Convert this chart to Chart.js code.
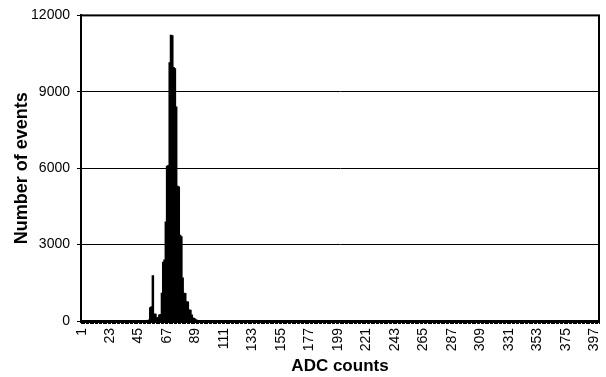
<html>
  <head>
    <meta charset="UTF-8">
    <title>ADC counts</title>
    <script src="https://cdn.jsdelivr.net/npm/chart.js@4.4.0/dist/chart.umd.min.js"></script>
    <style>
      body { margin: 0; background: #fff; }
      .chartWrapper { width: 606px; height: 377px; }
    </style>
  </head>
  <body>
    <div class="chartWrapper">
      <canvas id="chartAdc" width="606" height="377"></canvas>
    </div>

    <script>
      // ADC channels 1..400
      const binCount = 400;
      const labelStep = 22;

      // counts, starting at channel 51; every other channel is empty
      const peakStart = 51;
      const peakCounts = [
        0, 10, 40, 520, 560, 1770, 270, 260, 120, 130,
        230, 250, 1090, 2300, 2390, 3880, 6070, 6100, 10140, 11220,
        11200, 9950, 9900, 8400, 5290, 5260, 3360, 3300, 1680, 1090,
        1080, 755, 740, 430, 420, 230, 110, 90, 50, 30,
        20, 10
      ];

      const yTicks = [0, 3000, 6000, 9000, 12000];

      const channels = [];
      const counts = [];
      for (let i = 1; i <= binCount; i++) {
        channels.push(String(i));
        const k = i - peakStart;
        counts.push(k >= 0 && k < peakCounts.length ? peakCounts[k] : 0);
      }

      const font = 'Liberation Sans, Arial, sans-serif';

      // plot frame (top and right edges, like the spreadsheet original)
      const framePlugin = {
        id: 'frame',
        afterDraw(chart) {
          const a = chart.chartArea;
          const ctx = chart.ctx;
          ctx.save();
          ctx.strokeStyle = '#000';
          ctx.lineWidth = 2;
          ctx.strokeRect(a.left, a.top, a.right - a.left, a.bottom - a.top);
          ctx.restore();
        }
      };

      new Chart(document.getElementById('chartAdc'), {
        type: 'bar',
        data: {
          labels: channels,
          datasets: [{
            data: counts,
            backgroundColor: '#000',
            borderWidth: 0,
            inflateAmount: 0.6,
            barPercentage: 1,
            categoryPercentage: 1,
          }]
        },
        options: {
          responsive: false,
          animation: false,
          layout: {
            padding: { left: 0, right: 7, top: 14, bottom: 0 }
          },
          plugins: {
            legend: { display: false },
            tooltip: { enabled: false },
          },
          scales: {
            x: {
              afterFit(scale) {
                scale.height = 56;
                scale.paddingLeft = 0;
                scale.paddingRight = 0;
              },
              grid: {
                drawOnChartArea: false,
                drawTicks: true,
                tickLength: 3,
                color: '#000',
                lineWidth: 1,
              },
              border: { display: true, color: '#000', width: 3 },
              ticks: {
                autoSkip: false,
                minRotation: 90,
                maxRotation: 90,
                padding: 4,
                color: '#000',
                font: { family: font, size: 14 },
                callback: function(value, index) {
                  return index % labelStep === 0 ? channels[index] : '';
                }
              },
              title: {
                display: true,
                text: 'ADC counts',
                color: '#000',
                font: { family: font, size: 17, weight: 'bold' },
                padding: { top: 0, bottom: 0 },
              }
            },
            y: {
              min: 0,
              max: 12000,
              afterFit(scale) { scale.width = 81; },
              afterBuildTicks(scale) {
                scale.ticks = yTicks.map(v => ({ value: v }));
              },
              grid: {
                color: '#000',
                lineWidth: 1,
                drawTicks: true,
                tickLength: 4,
              },
              border: { display: true, color: '#000', width: 2 },
              ticks: {
                padding: 7,
                color: '#000',
                font: { family: font, size: 14 },
                callback: (v) => String(v),
              },
              title: {
                display: true,
                text: 'Number of events',
                color: '#000',
                font: { family: font, size: 18, weight: 'bold' },
                padding: { top: 11, bottom: 0 },
              }
            }
          }
        },
        plugins: [framePlugin]
      });
    </script>
  </body>
</html>
